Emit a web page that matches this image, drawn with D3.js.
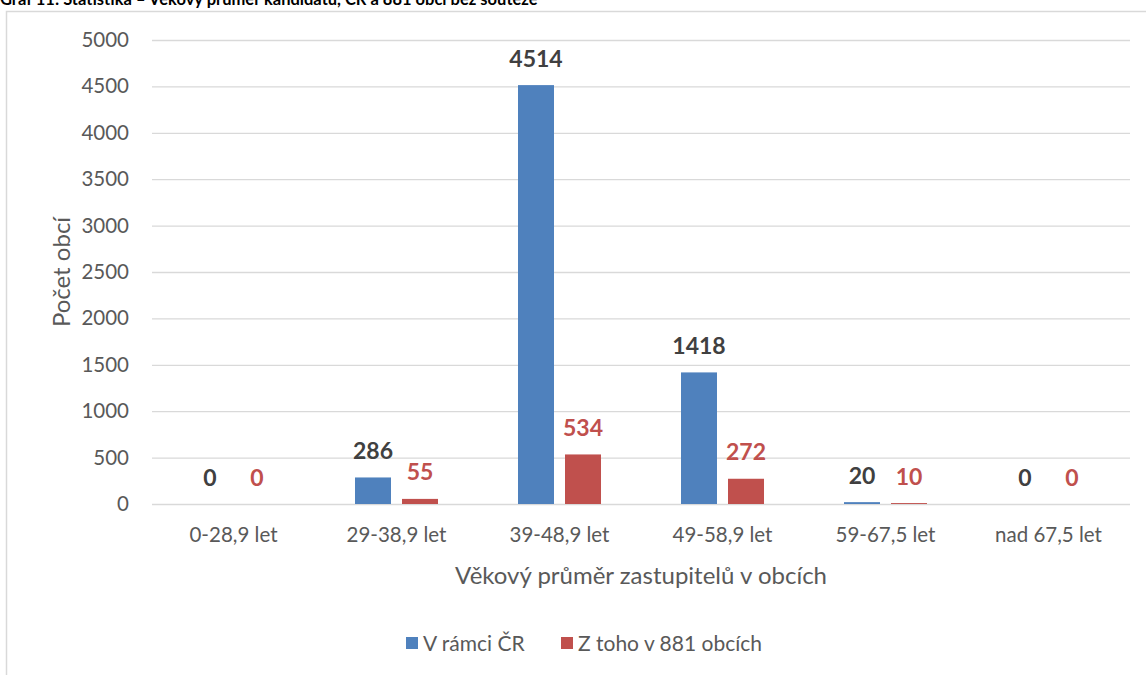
<!DOCTYPE html>
<html><head><meta charset="utf-8">
<script src="https://cdn.jsdelivr.net/npm/d3@7"></script>
<style>body{margin:0;background:#fff;overflow:hidden}svg{display:block}</style>
</head><body>
<script>
const categories = ["0-28,9 let","29-38,9 let","39-48,9 let","49-58,9 let","59-67,5 let","nad 67,5 let"];
const seriesNames = ["V rámci ČR","Z toho v 881 obcích"];
const seriesCR = [0,286,4514,1418,20,0];
const series881 = [0,55,534,272,10,0];
const yTicks = [0,500,1000,1500,2000,2500,3000,3500,4000,4500,5000];
const colors = ["#4f81bd","#c0504d"];
const labelColors = ["#404040","#c0504d"];
const font = "Lato, 'Open Sans', sans-serif";

const W=1146,H=675;
const svg=d3.select("body").append("svg").attr("width",W).attr("height",H);

// title (cut at top, as in the reference)
svg.append("text").attr("x",0).attr("y",5).attr("font-family",font).attr("font-weight","bold")
  .attr("font-size",16.5).attr("fill","#000")
  .text("Graf 11: Statistika – Věkový průměr kandidátů, ČR a 881 obcí bez soutěže");

// frame
svg.append("rect").attr("x",6.5).attr("y",11.5).attr("width",1160).attr("height",700)
  .attr("fill","none").attr("stroke","#d9d9d9").attr("stroke-width",1.5);

const x0=d3.scaleBand().domain(categories).range([152,1130]).padding(0);
const x1=d3.scaleBand().domain(seriesNames).range([0,x0.bandwidth()]).paddingInner(0.234).paddingOuter(0.851);
const y=d3.scaleLinear().domain([0,5000]).range([504,40]);

// grid
const yAxis=d3.axisLeft(y).tickValues(yTicks).tickSize(-(1130-152)).tickPadding(23).tickFormat(d3.format("d"));
const ga=svg.append("g").attr("transform","translate(152,0)").call(yAxis);
ga.select(".domain").remove();
ga.selectAll(".tick line").attr("stroke","#d9d9d9").attr("stroke-width",1.3);
ga.selectAll(".tick text").attr("font-family",font).attr("font-size",20.5).attr("fill","#595959");

const data=categories.map((c,i)=>({cat:c,vals:[seriesCR[i],series881[i]]}));
const g=svg.append("g");
data.forEach(d=>{
  d.vals.forEach((v,s)=>{
    const xx=x0(d.cat)+x1(seriesNames[s]);
    g.append("rect").attr("x",xx).attr("y",y(v)).attr("width",x1.bandwidth()).attr("height",y(0)-y(v)).attr("fill",colors[s]);
    g.append("text").attr("x",xx+x1.bandwidth()/2).attr("y",y(v)-18.5).attr("text-anchor","middle")
      .attr("font-family",font).attr("font-weight","bold").attr("font-size",23).attr("fill",labelColors[s]).text(v);
  });
});

// x axis labels
const xAxis=d3.axisBottom(x0).tickSize(0).tickPadding(23);
const gx=svg.append("g").attr("transform","translate(0,504)").call(xAxis);
gx.select(".domain").remove();
gx.selectAll(".tick text").attr("font-family",font).attr("font-size",20.5).attr("fill","#595959");

svg.append("text").attr("x",641).attr("y",584).attr("text-anchor","middle").attr("font-family",font)
  .attr("font-size",24).attr("fill","#595959").text("Věkový průměr zastupitelů v obcích");
svg.append("text").attr("transform","translate(70,272) rotate(-90)").attr("text-anchor","middle").attr("font-family",font)
  .attr("font-size",24).attr("fill","#595959").text("Počet obcí");

// legend
const legX=[406,561];
seriesNames.forEach((n,i)=>{
  svg.append("rect").attr("x",legX[i]).attr("y",637).attr("width",12).attr("height",12).attr("fill",colors[i]);
  svg.append("text").attr("x",legX[i]+17).attr("y",651).attr("font-family",font).attr("font-size",21)
    .attr("fill","#595959").text(n);
});
</script>
</body></html>
